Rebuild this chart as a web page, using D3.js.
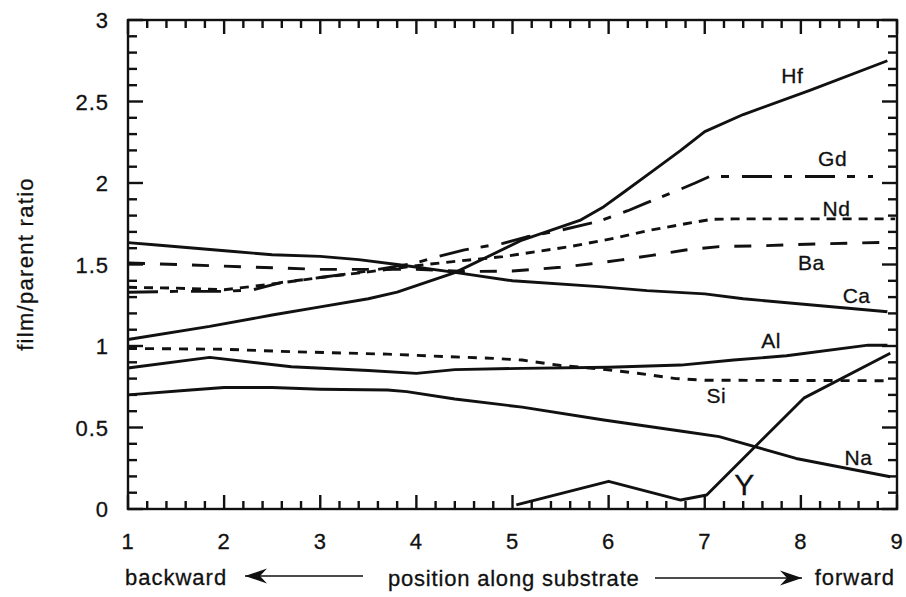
<!DOCTYPE html>
<html><head><meta charset="utf-8">
<script src="https://cdn.jsdelivr.net/npm/d3@7"></script>
<style>
body{margin:0;background:#fff}
text{font-family:"Liberation Sans",Arial,Helvetica,sans-serif;fill:#111;stroke:#111;stroke-width:0.3px}
</style>
</head><body>
<svg id="c" width="906" height="597"></svg>
<script>
// ---- data ----
const xTicks = [1,2,3,4,5,6,7,8,9];
const yTicks = [0,0.5,1,1.5,2,2.5,3];
const yTickLabels = ["0","0.5","1","1.5","2","2.5","3"];
const seriesNames = ["Hf","Gd","Nd","Ba","Ca","Al","Si","Na","Y"];
const hf = [[1,1.04],[1.85,1.12],[2.5,1.19],[3,1.24],[3.5,1.29],[3.8,1.33],[4.1,1.39],[4.4,1.45],[5.1,1.65],[5.7,1.77],[5.95,1.855],[6.15,1.94],[6.45,2.07],[6.75,2.2],[7,2.315],[7.4,2.42],[8.1,2.57],[8.9,2.75]];
const gd = [[1,1.33],[1.5,1.335],[2,1.335],[2.3,1.345],[2.6,1.39],[3,1.42],[3.5,1.46],[4,1.51],[4.2,1.545],[4.5,1.59],[4.9,1.63],[5.15,1.67],[5.5,1.71],[5.9,1.765],[6.2,1.83],[6.4,1.88],[6.7,1.95],[6.9,2.0],[7.05,2.04],[8.75,2.04]];
const nd = [[1,1.36],[1.5,1.355],[2,1.345],[2.5,1.38],[3,1.42],[3.5,1.455],[4.1,1.5],[4.55,1.528],[4.9,1.548],[5.6,1.61],[6.05,1.66],[6.4,1.707],[6.8,1.75],[7.07,1.777],[7.3,1.78],[8.98,1.78]];
const ba = [[1,1.51],[2,1.49],[3,1.47],[4,1.47],[4.5,1.457],[5,1.46],[5.5,1.483],[5.8,1.503],[6.13,1.528],[6.45,1.556],[6.8,1.589],[7.15,1.61],[7.6,1.615],[8.15,1.626],[8.9,1.636]];
const ca = [[1,1.634],[1.3,1.62],[2.1,1.58],[2.5,1.56],[3,1.55],[3.4,1.53],[3.8,1.50],[4.4,1.452],[5,1.40],[5.9,1.364],[6.4,1.34],[7,1.32],[7.4,1.29],[8.9,1.21]];
const al = [[1,0.865],[1.85,0.93],[2.7,0.873],[3.5,0.85],[4,0.832],[4.4,0.855],[5.1,0.863],[6,0.87],[6.75,0.883],[7.3,0.914],[7.85,0.94],[8.7,1.005],[8.9,1.005]];
const si = [[1,0.985],[2,0.98],[2.7,0.965],[3.7,0.95],[4.1,0.94],[4.8,0.924],[5.1,0.914],[5.5,0.88],[5.9,0.86],[6.3,0.833],[6.7,0.80],[7,0.79],[8.93,0.787]];
const na = [[1,0.70],[1.65,0.73],[2,0.745],[2.5,0.745],[3,0.735],[3.7,0.73],[3.9,0.72],[4.4,0.675],[5.1,0.625],[5.95,0.546],[6.8,0.474],[7.15,0.444],[7.95,0.31],[8.93,0.198]];
const yy = [[5.04,0.025],[6.0,0.17],[6.75,0.055],[7.02,0.086],[8.03,0.68],[8.93,0.955]];
// label anchor positions (data units)
const labelX = [7.91,8.33,8.37,8.11,8.58,7.69,7.12,8.6,7.41];
const labelY = [2.613,2.104,1.798,1.466,1.264,0.988,0.65,0.27,0.086];

// ---- drawing ----
const svg = d3.select("#c");
const L=128, R=897, T=20, B=509;
const x = d3.scaleLinear().domain([1,9]).range([L,R]);
const y = d3.scaleLinear().domain([0,3]).range([B,T]);

const styles = {
  Hf:{dash:null}, Gd:{dash:"30,12,8,13"}, Nd:{dash:"9,7"}, Ba:{dash:"17,15"},
  Ca:{dash:null}, Al:{dash:null}, Si:{dash:"9,8"}, Na:{dash:null}, Y:{dash:null}
};
const datasets = [hf,gd,nd,ba,ca,al,si,na,yy];

const line = d3.line().x(d=>x(d[0])).y(d=>y(d[1]));
datasets.forEach((d,i)=>{
  svg.append("path").attr("d",line(d)).attr("fill","none")
    .attr("stroke","#111").attr("stroke-width",2.9)
    .attr("stroke-linejoin","round")
    .attr("stroke-dasharray",styles[seriesNames[i]].dash);
});

// frame
svg.append("rect").attr("x",L).attr("y",T).attr("width",R-L).attr("height",B-T)
  .attr("fill","none").attr("stroke","#111").attr("stroke-width",2.4);

// inward ticks on all four sides
const xMinor = d3.range(1,9.001,0.2).map(v=>+v.toFixed(2)).filter(v=>!xTicks.includes(v));
const yMinor = d3.range(0,3.001,0.1).map(v=>+v.toFixed(2)).filter(v=>!yTicks.some(t=>Math.abs(t-v)<1e-6));
const ticksG = svg.append("g").attr("class","ticks");
[[xMinor,8],[xTicks,14]].forEach(([vals,len])=>{
  vals.forEach(v=>{
    ticksG.append("line").attr("x1",x(v)).attr("x2",x(v)).attr("y1",B).attr("y2",B-len)
      .attr("stroke","#111").attr("stroke-width",2.4);
    ticksG.append("line").attr("x1",x(v)).attr("x2",x(v)).attr("y1",T).attr("y2",T+len)
      .attr("stroke","#111").attr("stroke-width",2.4);
  });
});
[[yMinor,9],[yTicks,15]].forEach(([vals,len])=>{
  vals.forEach(v=>{
    ticksG.append("line").attr("y1",y(v)).attr("y2",y(v)).attr("x1",L).attr("x2",L+len)
      .attr("stroke","#111").attr("stroke-width",2.4);
    ticksG.append("line").attr("y1",y(v)).attr("y2",y(v)).attr("x1",R).attr("x2",R-len)
      .attr("stroke","#111").attr("stroke-width",2.4);
  });
});

// tick labels
svg.append("g").selectAll("text").data(xTicks).join("text")
  .attr("x",d=>x(d)).attr("y",B+40).attr("text-anchor","middle")
  .attr("font-size",22).attr("letter-spacing",1).text(d=>d);
svg.append("g").selectAll("text").data(yTicks).join("text")
  .attr("x",L-19).attr("y",d=>y(d)+8).attr("text-anchor","end")
  .attr("font-size",22).attr("letter-spacing",1).text((d,i)=>yTickLabels[i]);

// series labels
seriesNames.forEach((n,i)=>{
  svg.append("text").attr("x",x(labelX[i])).attr("y",y(labelY[i]))
    .attr("text-anchor","middle").attr("font-size",n==="Y"?30:21)
    .attr("letter-spacing",n==="Y"?0:0.5).text(n);
});

// axis titles
svg.append("text").attr("transform","translate(33,264) rotate(-90)")
  .attr("text-anchor","middle").attr("font-size",22).attr("letter-spacing",1.3)
  .text("film/parent ratio");
svg.append("text").attr("x",125).attr("y",585).attr("font-size",22).attr("letter-spacing",1).text("backward");
svg.append("text").attr("x",388).attr("y",586).attr("font-size",22).attr("letter-spacing",0.8).text("position along substrate");
svg.append("text").attr("x",895).attr("y",585).attr("text-anchor","end").attr("font-size",22).attr("letter-spacing",1).text("forward");

// arrows
function arrow(x1,x2,yv){
  svg.append("line").attr("x1",x1).attr("x2",x2).attr("y1",yv).attr("y2",yv)
    .attr("stroke","#111").attr("stroke-width",1.3);
  const dir = Math.sign(x2-x1);
  const tip = x2, back = x2-dir*22, notch = x2-dir*15;
  svg.append("path").attr("d",`M${tip},${yv} L${back},${yv-7.5} L${notch},${yv} L${back},${yv+7.5} Z`)
    .attr("fill","#111");
}
arrow(363,245,576);
arrow(655,802,578);
</script>
</body></html>
